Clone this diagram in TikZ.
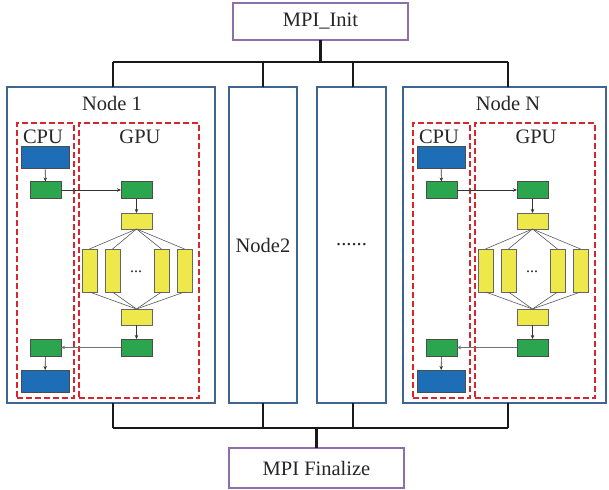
\documentclass[tikz,border=0pt]{standalone}
\usepackage{fontspec}
\setmainfont{Latin Modern Roman}
\newfontfamily\labelfont{Liberation Serif}
\usepackage{tikz}
\usetikzlibrary{positioning,arrows.meta}

\definecolor{boxblue}{HTML}{3F6595}
\definecolor{cpublue}{HTML}{1D6DB7}
\definecolor{grn}{HTML}{2CA64E}
\definecolor{ylw}{HTML}{EEE84A}
\definecolor{dashred}{HTML}{D8262E}
\definecolor{mpipurple}{HTML}{8E6FAE}

\begin{document}
\begin{tikzpicture}[x=1pt, y=-1pt, >={Stealth[length=4pt,width=3.5pt]},
  every node/.style={inner sep=0pt, outer sep=0pt, font=\labelfont\fontsize{20.5}{24}\selectfont, text=black!85},
  bigbox/.style={draw=boxblue, line width=1.4pt, minimum height=316pt},
  mpibox/.style={draw=mpipurple, line width=1.2pt, fill=white, minimum width=175pt},
  dashbox/.style={draw=dashred, dash pattern=on 6pt off 3pt, line width=1.1pt, minimum height=275pt},
  cpublk/.style={draw=black!70, fill=cpublue, line width=0.5pt, minimum width=48pt, minimum height=22pt},
  grnblk/.style={draw=black!70, fill=grn, line width=0.5pt, minimum width=31pt, minimum height=17pt},
  ylwblk/.style={draw=black!60, fill=ylw, line width=0.5pt, minimum width=31pt, minimum height=16pt},
  bar/.style={draw=black!60, fill=ylw, line width=0.5pt, minimum width=15pt, minimum height=43pt},
  bus/.style={line width=2.6pt, black!90},
  link/.style={line width=0.6pt, black!80}]
\useasboundingbox (0,0) rectangle (609,489);

% MPI boxes
\node[mpibox, minimum height=37pt] (init) at (320.5,21.5) {MPI\_Init};
\node[mpibox, minimum height=40pt] (fin) at (316.5,468) {MPI Finalize};

% compute nodes
\node[bigbox, minimum width=208pt] (node1) at (111,245) {};
\node[bigbox, minimum width=68pt] (node2) at (263,245) {Node2};
\node[bigbox, minimum width=69pt] (nodex) at (351.5,245) {......};
\node[bigbox, minimum width=203pt] (nodeN) at (504.5,245) {};

% inner structure of node 1 and node N
\foreach \s/\n/\t in {0/a/Node 1,396/n/Node N}{
\begin{scope}[xshift=\s pt]
  \node at (112,103) {\t};
  \node[dashbox, minimum width=57pt] (cpu\n) at (45.5,260.5) {};
  \node[dashbox, minimum width=120pt] (gpu\n) at (139,260.5) {};
  \node at (43,137) {CPU}; \node at (140,137) {GPU};
  \node[cpublk] (hin\n) at (45,157) {};
  \node[grnblk] (cin\n) at (45.5,190) {};
  \node[grnblk] (gin\n) at (136.5,190) {};
  \node[ylwblk] (ytop\n) at (136.5,221) {};
  \node[bar] (b1\n) at (89.5,270.5) {}; \node[bar] (b2\n) at (112.5,270.5) {};
  \node[bar] (b3\n) at (161.5,270.5) {}; \node[bar] (b4\n) at (184.5,270.5) {};
  \node[font=\labelfont\fontsize{16}{18}\selectfont] at (136,272) {...};
  \node[ylwblk] (ybot\n) at (136.5,317) {};
  \node[grnblk] (gout\n) at (136.5,347.5) {};
  \node[grnblk] (cout\n) at (45.5,347.5) {};
  \node[cpublk] (hout\n) at (45,381) {};
  \foreach \b in {b1,b2,b3,b4}
    \draw[link, black!65] (ytop\n.south) -- (\b\n.north) (\b\n.south) -- (ybot\n.north);
  \draw[link,->] (hin\n) -- (cin\n);
  \draw[link,->] (cin\n) -- (gin\n);
  \draw[link,->] (gin\n) -- (ytop\n);
  \draw[link,->] (ybot\n) -- (gout\n);
  \draw[link,->, black!55] (gout\n) -- (cout\n);
  \draw[link,->] (cout\n) -- (hout\n);
\end{scope}}

% buses
\coordinate (tl) at (113,62); \coordinate (tr) at (508,62);
\coordinate (bl) at (113,428); \coordinate (br) at (508,428);
\draw[bus] (init) -- (init |- tl);
\draw[bus] (tl) -- (tr);
\draw[bus] (bl) -- (br);
\draw[bus] (fin) -- (fin |- bl);
\foreach \x in {113,263,353,508}{
  \draw[bus] (\x,62) -- (\x,87);
  \draw[bus] (\x,403) -- (\x,428);
}
\end{tikzpicture}
\end{document}
